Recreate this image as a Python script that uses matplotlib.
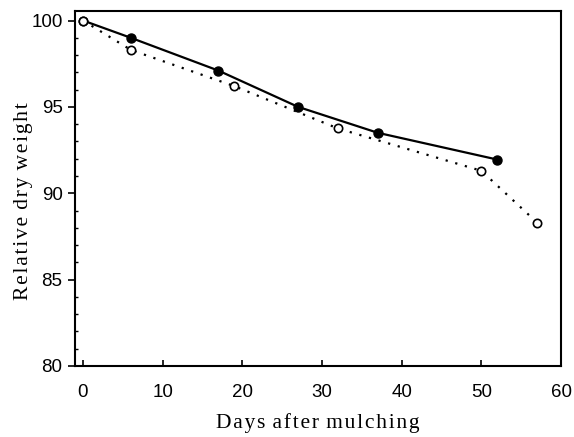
import matplotlib
matplotlib.use('Agg')
import matplotlib.pyplot as plt
from matplotlib.ticker import MultipleLocator

# filled symbols, solid line
days_a = [0, 6, 17, 27, 37, 52]
weight_a = [100, 99.0, 97.1, 95.0, 93.5, 91.95]

# open symbols, dotted line
days_b = [0, 6, 19, 32, 50, 57]
weight_b = [100, 98.3, 96.2, 93.75, 91.3, 88.3]

xlabel = 'Days after mulching'
ylabel = 'Relative dry weight'


def spaced(s):
    # the original axis titles are set with wide letter spacing
    return ' \u200a'.join('\u200a'.join(w) for w in s.split(' '))


fig = plt.figure(figsize=(5.74, 4.37), dpi=100)
ax = fig.add_axes([0.1307, 0.1625, 0.8467, 0.8123])

ax.plot(days_b, weight_b, color='black', linestyle=(0, (1, 3.5)), linewidth=1.6,
        marker='o', markersize=6, markerfacecolor='white', markeredgecolor='black',
        markeredgewidth=1.2, zorder=3)
ax.plot(days_a[1:], weight_a[1:], color='black', linestyle='none',
        marker='o', markersize=6.5, markerfacecolor='black', zorder=4)
ax.plot(days_a, weight_a, color='black', linewidth=1.6, zorder=2)
# open symbol at day 0 sits on top
ax.plot(days_b[:1], weight_b[:1], linestyle='none', marker='o', markersize=6,
        markerfacecolor='white', markeredgecolor='black', markeredgewidth=1.2, zorder=5)

ax.set_xlim(-1, 60)
ax.set_ylim(80, 100.55)
ax.set_xticks([0, 10, 20, 30, 40, 50, 60])
ax.set_yticks([80, 85, 90, 95, 100])
ax.yaxis.set_minor_locator(MultipleLocator(1))

for s in ax.spines.values():
    s.set_linewidth(1.5)

ax.tick_params(axis='x', direction='in', length=4, width=1.2, pad=13,
               labelsize=13.5)
ax.tick_params(axis='y', which='major', direction='out', length=5, width=1.2,
               pad=4, labelsize=13.5)
ax.tick_params(axis='y', which='minor', direction='in', length=2.5, width=1)
for lab in ax.get_xticklabels() + ax.get_yticklabels():
    lab.set_family('Liberation Sans')

ax.set_xlabel(spaced(xlabel), family='Liberation Serif', fontsize=15.5, labelpad=9)
ax.set_ylabel(spaced(ylabel), family='Liberation Serif', fontsize=15.5)
ax.yaxis.set_label_coords(-0.086, 0.465)

fig.savefig('out.png', dpi=100)
